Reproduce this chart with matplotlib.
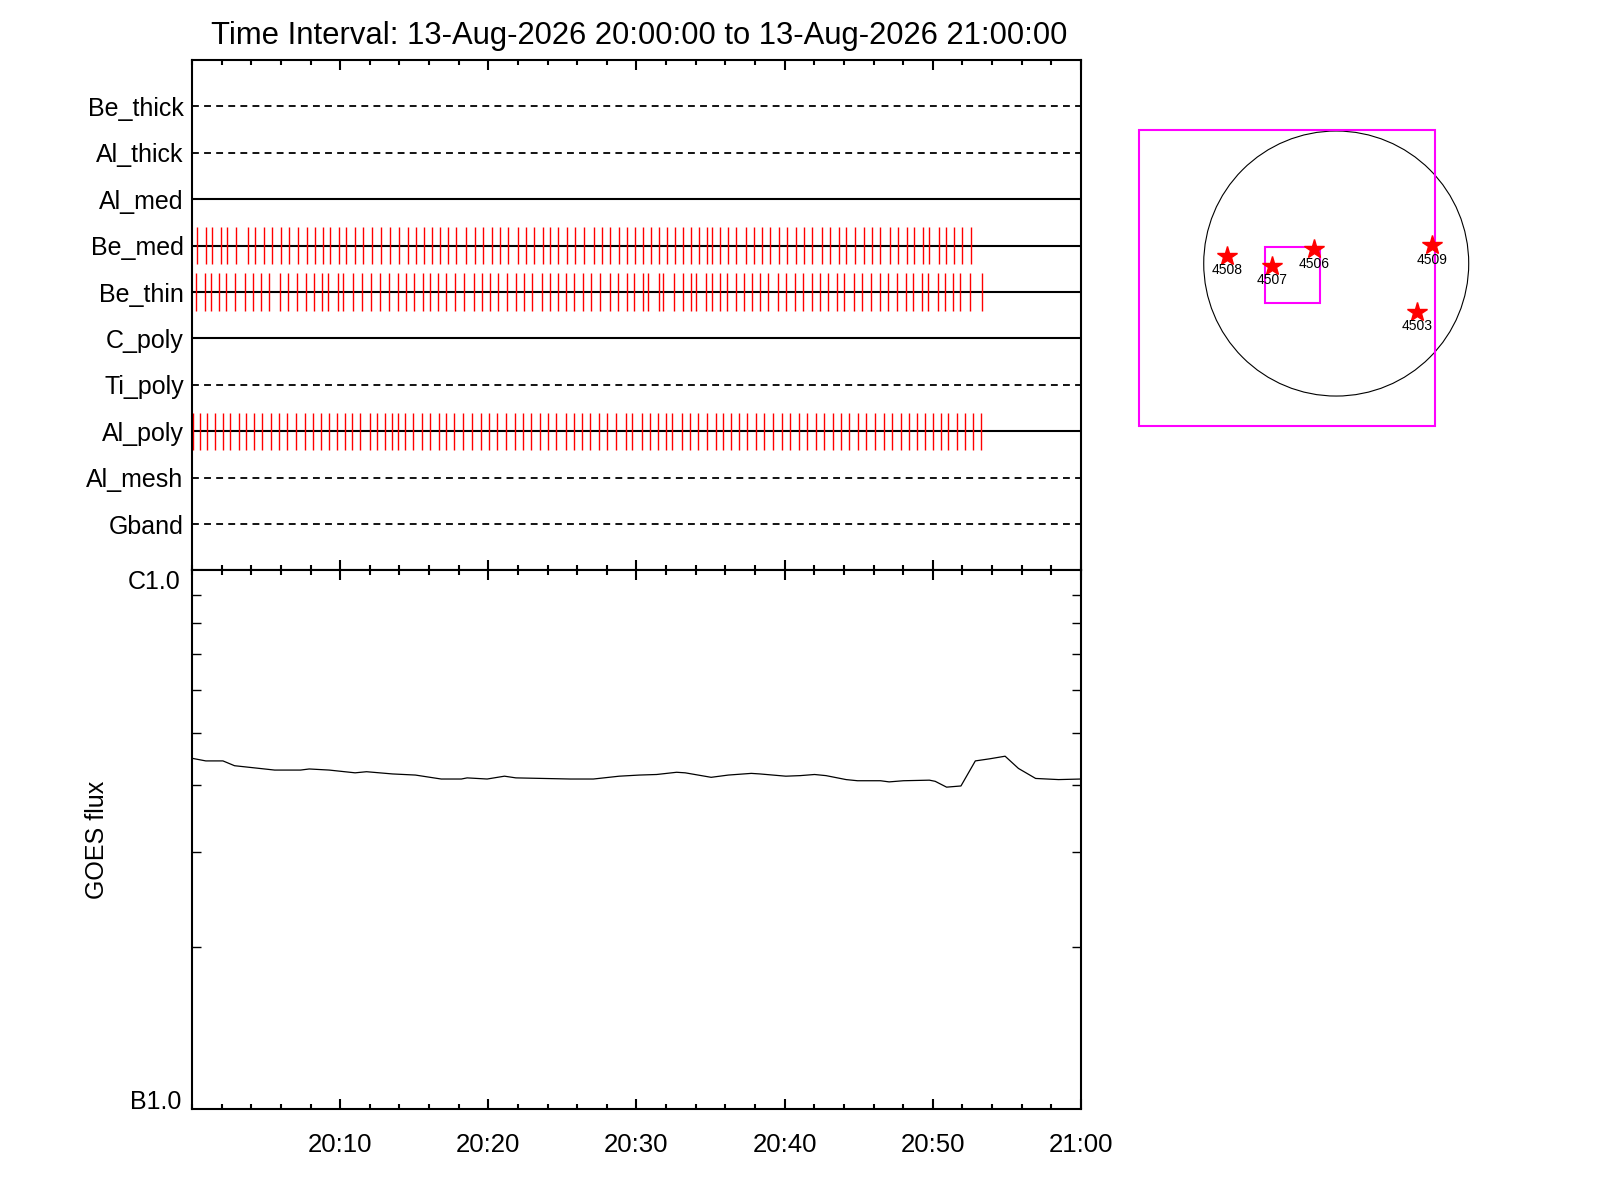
import numpy as np
import pandas as pd
import matplotlib
matplotlib.use("Agg")
import matplotlib.pyplot as plt
import matplotlib.dates as mdates
from matplotlib.patches import Rectangle, Circle
from matplotlib.ticker import LogLocator, NullFormatter

plt.rcParams['font.family'] = ['Liberation Sans', 'DejaVu Sans']

start = pd.Timestamp('2026-08-13 20:00:00')
end = pd.Timestamp('2026-08-13 21:00:00')

# filter rows, top to bottom
filters = ['Be_thick', 'Al_thick', 'Al_med', 'Be_med', 'Be_thin',
           'C_poly', 'Ti_poly', 'Al_poly', 'Al_mesh', 'Gband']
solid_rows = ['Al_med', 'Be_med', 'Be_thin', 'C_poly', 'Al_poly']

# exposure times, minutes after 20:00
be_med_min = [0.36, 0.97, 1.37, 1.98, 2.39, 2.99, 3.76, 4.28, 4.88, 5.42, 6.03, 6.57,
              7.18, 7.79, 8.33, 8.87, 9.34, 9.95, 10.42, 11.03, 11.57, 12.18, 12.78,
              13.39, 14.00, 14.61, 15.15, 15.69, 16.23, 16.77, 17.31, 17.85, 18.46,
              19.07, 19.67, 20.28, 20.82, 21.36, 21.97, 22.51, 23.05, 23.66, 24.19,
              24.73, 25.34, 25.88, 26.49, 27.10, 27.64, 28.24, 28.85, 29.39, 29.93,
              30.47, 30.95, 31.55, 32.03, 32.57, 33.17, 33.71, 34.25, 34.79, 35.13,
              35.67, 36.15, 36.75, 37.36, 37.90, 38.44, 38.98, 39.59, 40.13, 40.74,
              41.34, 41.88, 42.49, 43.03, 43.64, 44.11, 44.72, 45.33, 45.87, 46.47,
              47.08, 47.62, 48.23, 48.70, 49.31, 49.72, 50.39, 50.86, 51.40, 51.94,
              52.55]
be_thin_min = [0.29, 0.90, 1.30, 1.84, 2.32, 2.92, 3.60, 4.14, 4.68, 5.22, 5.96, 6.50,
               7.11, 7.72, 8.26, 8.80, 9.20, 9.88, 10.22, 10.89, 11.50, 12.11, 12.71,
               13.32, 13.93, 14.47, 15.01, 15.62, 16.09, 16.63, 17.11, 17.78, 18.39,
               19.00, 19.60, 20.14, 20.68, 21.29, 21.90, 22.44, 22.98, 23.59, 24.13,
               24.67, 25.27, 25.81, 26.42, 26.96, 27.57, 28.18, 28.72, 29.33, 29.80,
               30.41, 30.81, 31.49, 31.82, 32.50, 33.11, 33.65, 34.05, 34.66, 35.07,
               35.61, 36.08, 36.69, 37.23, 37.83, 38.31, 38.91, 39.52, 40.06, 40.67,
               41.21, 41.82, 42.42, 42.96, 43.55, 44.04, 44.65, 45.19, 45.80, 46.41,
               46.95, 47.56, 48.16, 48.64, 49.24, 49.65, 50.32, 50.80, 51.34, 51.81,
               52.48, 53.30]
al_poly_min = [0.07, 0.54, 1.01, 1.57, 2.11, 2.58, 3.19, 3.67, 4.21, 4.75, 5.35, 5.89,
               6.43, 7.04, 7.65, 8.19, 8.73, 9.27, 9.81, 10.35, 10.83, 11.37, 12.04,
               12.52, 13.06, 13.53, 13.93, 14.41, 14.95, 15.55, 16.03, 16.64, 17.17,
               17.71, 18.32, 18.93, 19.53, 20.07, 20.61, 21.22, 21.83, 22.37, 22.91,
               23.52, 24.06, 24.60, 25.21, 25.75, 26.35, 26.89, 27.50, 28.04, 28.65,
               29.26, 29.73, 30.34, 30.88, 31.42, 31.96, 32.43, 33.04, 33.58, 34.12,
               34.73, 35.34, 35.81, 36.35, 36.95, 37.49, 38.04, 38.58, 39.19, 39.79,
               40.33, 40.94, 41.48, 42.09, 42.63, 43.24, 43.78, 44.32, 44.93, 45.47,
               46.08, 46.68, 47.22, 47.83, 48.37, 48.91, 49.45, 49.99, 50.53, 51.00,
               51.61, 52.15, 52.69, 53.23]
exposures = {'Be_med': be_med_min, 'Be_thin': be_thin_min, 'Al_poly': al_poly_min}

# GOES long channel flux (W/m^2)
goes_min = [0.0, 0.93, 2.09, 2.87, 4.22, 5.58, 7.33, 7.91, 9.26, 11.01, 11.78, 13.53,
            15.08, 16.82, 18.18, 18.57, 19.92, 21.09, 21.86, 25.54, 27.09, 28.84,
            30.19, 31.36, 32.71, 33.29, 35.04, 36.20, 37.75, 38.33, 40.08, 41.05,
            42.02, 42.79, 44.15, 44.92, 46.47, 47.05, 48.02, 49.77, 50.16, 50.93,
            51.90, 52.87, 53.84, 54.88, 55.78, 56.94, 58.49, 60.0]
goes_flux = [4.48, 4.43, 4.43, 4.34, 4.30, 4.26, 4.26, 4.28, 4.26, 4.21, 4.23, 4.19,
             4.17, 4.10, 4.10, 4.12, 4.10, 4.15, 4.12, 4.10, 4.10, 4.15, 4.17, 4.18,
             4.22, 4.21, 4.13, 4.17, 4.20, 4.19, 4.15, 4.16, 4.18, 4.16, 4.09, 4.07,
             4.07, 4.05, 4.07, 4.08, 4.06, 3.96, 3.98, 4.43, 4.47, 4.52, 4.29, 4.11,
             4.09, 4.10]
goes_flux = [f * 1e-7 for f in goes_flux]

# active regions (arcsec from disk centre)
ar_numbers = ['4508', '4507', '4506', '4509', '4503']
ar_x = [-793, -467, -163, 694, 583]
ar_y = [56, -16, 103, 134, -349]
sun_radius = 960
fov_outer = (-1431, -1177, 2147, 2142)   # x0, y0, width, height
fov_inner = (-518, -286, 401, 403)


def to_time(minutes):
    return (start + pd.to_timedelta(np.asarray(minutes), unit='m')).to_pydatetime()


fig = plt.figure(figsize=(16, 12), dpi=100)
ax1 = fig.add_axes([0.12, 0.5246, 0.5556, 0.4254])
ax2 = fig.add_axes([0.12, 0.0758, 0.5556, 0.4488])

t0, t1 = start.to_pydatetime(), end.to_pydatetime()

# --- filter timeline
n = len(filters)
row_y = {name: n - i for i, name in enumerate(filters)}
for name in filters:
    y = row_y[name]
    if name in solid_rows:
        ax1.axhline(y, color='black', lw=1.5, ls='-')
    else:
        ax1.axhline(y, color='black', lw=1.3, ls=(0, (3.8, 2.9)))
for name, mins in exposures.items():
    y = row_y[name]
    ax1.vlines(to_time(mins), y - 0.4, y + 0.4, color='red', lw=1.0)

ax1.set_ylim(0, n + 1)
ax1.set_yticks([row_y[f] for f in filters], filters)
ax1.tick_params(axis='y', length=0, pad=6, labelsize=18)

# --- GOES flux
ax2.plot(to_time(goes_min), goes_flux, color='black', lw=0.9)
ax2.set_yscale('log')
ax2.set_ylim(1e-7, 1e-6)
ax2.set_yticks([1e-7, 1e-6], ['B1.0', 'C1.0'])
ax2.yaxis.set_minor_locator(LogLocator(base=10, subs=np.arange(2, 10)))
ax2.yaxis.set_minor_formatter(NullFormatter())
ax2.tick_params(axis='y', which='major', length=0, pad=8, labelsize=18)
ax2.tick_params(axis='y', which='minor', direction='in', left=True, right=True,
                length=6.5, width=1.0)
ylabels = ax2.get_yticklabels()
ylabels[0].set_va('baseline')
ylabels[1].set_va('top')
ax2.set_ylabel('GOES flux', fontsize=18)
ax2.yaxis.set_label_coords(-0.093, 0.5)

# --- shared time axis styling
major_ticks = to_time([10, 20, 30, 40, 50, 60])
for ax in (ax1, ax2):
    ax.set_xlim(t0, t1)
    ax.set_xticks(major_ticks)
    ax.xaxis.set_minor_locator(mdates.MinuteLocator(byminute=range(0, 60, 2)))
    ax.xaxis.set_major_formatter(mdates.DateFormatter('%H:%M'))
    ax.tick_params(axis='x', which='both', direction='in', top=True, bottom=True)
    ax.tick_params(axis='x', which='major', length=7.2, width=1.5)
    ax.tick_params(axis='x', which='minor', length=3.4, width=1.5)
    for s in ax.spines.values():
        s.set_linewidth(1.5)
ax1.tick_params(axis='x', labelbottom=False)
ax2.tick_params(axis='x', labelsize=18.5, pad=17)

fig.text(0.3994, 0.970, 'Time Interval: 13-Aug-2026 20:00:00 to 13-Aug-2026 21:00:00',
         ha='center', va='center', fontsize=22.3)

# --- solar disk inset
ax3 = fig.add_axes([0.7117, 0.645, 0.1852, 0.2464])
ax3.set_xlim(fov_outer[0], fov_outer[0] + fov_outer[2])
ax3.set_ylim(fov_outer[1], fov_outer[1] + fov_outer[3])
ax3.axis('off')
ax3.add_patch(Circle((0, 0), sun_radius, fill=False, ec='black', lw=0.8, clip_on=False))
for box in (fov_outer, fov_inner):
    ax3.add_patch(Rectangle(box[:2], box[2], box[3], fill=False, ec='#ff00ff',
                            lw=1.5, clip_on=False))
ax3.plot(ar_x, ar_y, ls='none', marker='*', ms=15, color='red', mec='red', clip_on=False)
for num, x, y in zip(ar_numbers, ar_x, ar_y):
    ax3.annotate(num, (x, y), xytext=(0, -10.5), textcoords='offset points',
                 ha='center', va='center', fontsize=10, annotation_clip=False)

fig.savefig('out.png', dpi=100)
